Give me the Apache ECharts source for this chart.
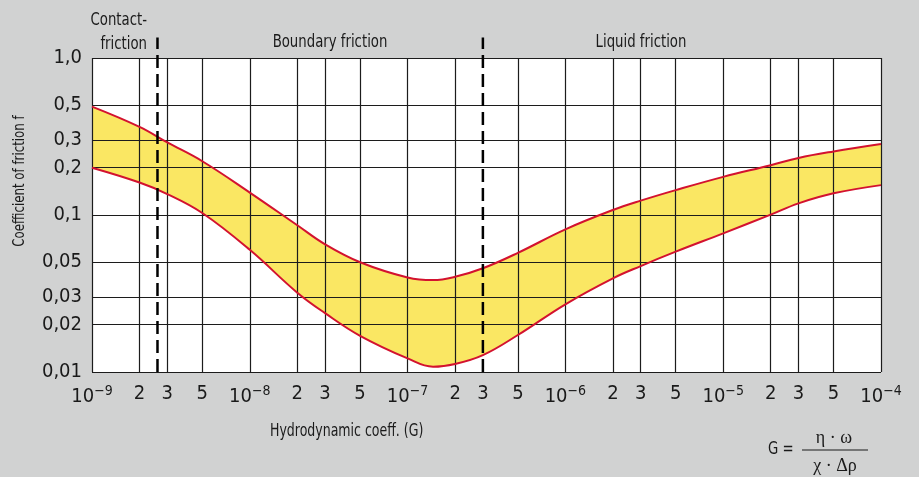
<!DOCTYPE html>
<html>
<head>
<meta charset="utf-8">
<script src="https://cdn.jsdelivr.net/npm/echarts@6/dist/echarts.min.js"></script>
<style>
    html, body { margin: 0; padding: 0; background: #d1d2d2; }
    #chart { width: 919px; height: 477px; }
</style>
</head>
<body>
<div id="chart"></div>
<script>
// hydrodynamic coefficient G and the friction band (upper / lower edge)
var gValues = [1e-9, 2e-9, 3e-9, 5e-9, 1e-8, 2e-8, 3e-8, 5e-8, 1e-7, 1.45e-7, 2e-7, 3e-7, 5e-7, 1e-6, 2e-6, 3e-6, 5e-6, 1e-5, 2e-5, 3e-5, 5e-5, 1e-4]
var upperF = [0.49, 0.364, 0.29, 0.22, 0.139, 0.086, 0.065, 0.050, 0.040, 0.0385, 0.0404, 0.0458, 0.0574, 0.081, 0.1076, 0.1234, 0.144, 0.175, 0.2075, 0.231, 0.254, 0.283]
var lowerF = [0.2, 0.161, 0.136, 0.103, 0.060, 0.032, 0.0237, 0.017, 0.0122, 0.0108, 0.01125, 0.0128, 0.0172, 0.027, 0.0395, 0.0473, 0.0584, 0.0764, 0.1006, 0.1186, 0.1374, 0.155]

// friction regime limits (dashed lines)
var contactLimit = 2.6e-9
var liquidLimit = 3e-7
var dashSpan = [0.01, 1.35]

// axis ticks
var xTicks = [1e-9, 2e-9, 3e-9, 5e-9, 1e-8, 2e-8, 3e-8, 5e-8, 1e-7, 2e-7, 3e-7, 5e-7, 1e-6, 2e-6, 3e-6, 5e-6, 1e-5, 2e-5, 3e-5, 5e-5, 1e-4]
var xTickLabels = ['10^−9', '2', '3', '5', '10^−8', '2', '3', '5', '10^−7', '2', '3', '5', '10^−6', '2', '3', '5', '10^−5', '2', '3', '5', '10^−4']
var yTicks = [0.01, 0.02, 0.03, 0.05, 0.1, 0.2, 0.3, 0.5, 1]
var yTickLabels = ['0,01', '0,02', '0,03', '0,05', '0,1', '0,2', '0,3', '0,5', '1,0']

var font = "'Liberation Sans Narrow', 'DejaVu Sans Condensed', sans-serif"
var ink = '#1a1a1a'
var red = '#d3122f'
var yellow = '#fae763'

function nearestIndex(list, v) {
    var best = 0
    for (var i = 1; i < list.length; i++) {
        if (Math.abs(Math.log10(list[i] / v)) < Math.abs(Math.log10(list[best] / v))) best = i
    }
    return best
}

function pairs(ys) {
    return gValues.map(function (g, i) { return [g, ys[i]] })
}

// the dashed line replaces the 3e-7 grid line
var xGrid = xTicks.filter(function (v) { return Math.abs(Math.log10(v / liquidLimit)) > 1e-6 })

// narrow text for the free labels
function label(x, y, text, size, align, extra) {
    var el = {
        type: 'text',
        x: x,
        y: y,
        scaleX: 0.82,
        style: { text: text, fontFamily: font, fontSize: size, fill: ink, textAlign: align, textVerticalAlign: 'middle' }
    }
    return Object.assign(el, extra || {})
}

var chart = echarts.init(document.getElementById('chart'))
chart.setOption({
    backgroundColor: '#d1d2d2',
    animation: false,
    grid: {
        left: 92,
        right: 38,
        top: 58,
        bottom: 105,
        show: true,
        backgroundColor: '#fff',
        borderWidth: 0
    },
    xAxis: {
        type: 'log',
        logBase: 10,
        min: 1e-9,
        max: 1e-4,
        z: 2,
        axisLine: { show: false },
        axisTick: { show: false, customValues: xGrid },
        splitLine: { show: true, customValues: xGrid, lineStyle: { color: '#1c1c1c', width: 1.2 } },
        axisLabel: {
            customValues: xTicks,
            margin: 12,
            formatter: function (v) {
                var s = xTickLabels[nearestIndex(xTicks, v)]
                if (s.indexOf('^') >= 0) {
                    var p = s.split('^')
                    return '{b|' + p[0] + '}{s|' + p[1] + '}'
                }
                return '{b|' + s + '}'
            },
            rich: {
                b: { fontFamily: font, fontSize: 20, color: ink },
                s: { fontFamily: font, fontSize: 14, color: ink, padding: [0, 0, 11, 0] }
            }
        }
    },
    yAxis: {
        type: 'log',
        logBase: 10,
        min: 0.01,
        max: 1,
        z: 2,
        axisLine: { show: false },
        axisTick: { show: false, customValues: yTicks },
        splitLine: { show: true, customValues: yTicks, lineStyle: { color: '#1c1c1c', width: 1.2 } },
        axisLabel: {
            customValues: yTicks,
            margin: 10,
            fontFamily: font,
            fontSize: 20,
            color: ink,
            formatter: function (v) {
                return yTickLabels[nearestIndex(yTicks, v)]
            }
        }
    },
    series: [
        {
            // yellow band: fill under upper edge, then cover under lower edge with white
            type: 'line',
            data: pairs(upperF),
            smooth: 0.4,
            symbol: 'none',
            z: 1,
            lineStyle: { width: 0 },
            areaStyle: { color: yellow, opacity: 1, origin: 'start' }
        },
        {
            type: 'line',
            data: pairs(lowerF),
            smooth: 0.4,
            symbol: 'none',
            z: 1,
            lineStyle: { width: 0 },
            areaStyle: { color: '#fff', opacity: 1, origin: 'start' }
        },
        {
            type: 'line',
            data: pairs(upperF),
            smooth: 0.4,
            symbol: 'none',
            z: 3,
            lineStyle: { color: red, width: 2 }
        },
        {
            type: 'line',
            data: pairs(lowerF),
            smooth: 0.4,
            symbol: 'none',
            z: 3,
            lineStyle: { color: red, width: 2 }
        },
        {
            type: 'line',
            data: dashSpan.map(function (f) { return [contactLimit, f] }),
            symbol: 'none',
            clip: false,
            z: 4,
            lineStyle: { color: '#000', width: 2.5, type: [13, 6] }
        },
        {
            type: 'line',
            data: dashSpan.map(function (f) { return [liquidLimit, f] }),
            symbol: 'none',
            clip: false,
            z: 4,
            lineStyle: { color: '#000', width: 2.5, type: [13, 6] }
        }
    ],
    graphic: [
        label(147, 20, 'Contact-', 18, 'right'),
        label(147, 44, 'friction', 18, 'right'),
        label(330, 42, 'Boundary friction', 18, 'center'),
        label(641, 42, 'Liquid friction', 18, 'center'),
        label(20, 181, 'Coefficient of friction f', 16, 'center', { rotation: Math.PI / 2 }),
        label(270, 432, 'Hydrodynamic coeff. (G)', 17, 'left'),
        label(768, 449, 'G =', 18, 'left'),
        {
            type: 'line',
            shape: { x1: 802, y1: 450, x2: 868, y2: 450 },
            style: { stroke: ink, lineWidth: 1.2 }
        },
        {
            type: 'text',
            x: 834, y: 438,
            style: { text: 'η · ω', fontFamily: "'Liberation Serif', serif", fontSize: 18, fill: ink, textAlign: 'center', textVerticalAlign: 'middle' }
        },
        {
            type: 'text',
            x: 835, y: 466,
            style: { text: 'χ · Δρ', fontFamily: "'Liberation Serif', serif", fontSize: 18, fill: ink, textAlign: 'center', textVerticalAlign: 'middle' }
        }
    ]
})
</script>
</body>
</html>
